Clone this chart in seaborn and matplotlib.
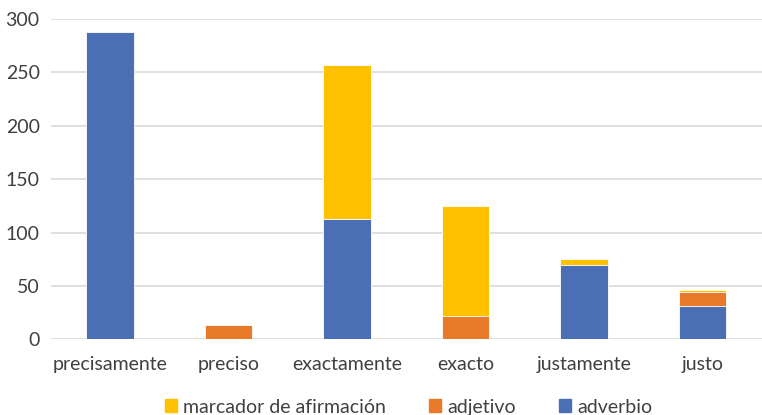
import matplotlib
matplotlib.use("Agg")
import matplotlib.pyplot as plt
import seaborn as sns
import pandas as pd
import numpy as np
from matplotlib.patches import Patch

categories = ["precisamente", "preciso", "exactamente", "exacto", "justamente", "justo"]
adverbio = [288, 0, 113, 0, 70, 31]
adjetivo = [0, 14, 0, 22, 0, 13]
marcador = [0, 0, 144, 103, 5, 2]
yticks = [0, 50, 100, 150, 200, 250, 300]

c_adv = "#4A6FB5"
c_adj = "#E97A2A"
c_mar = "#FFC000"

sns.set_theme(style="white")
plt.rcParams["font.family"] = ["Lato", "DejaVu Sans"]

df = pd.DataFrame({"cat": categories,
                   "adv": adverbio,
                   "adj": np.array(adverbio) + np.array(adjetivo)})
df["tot"] = df["adj"] + np.array(marcador)

fig = plt.figure(figsize=(7.62, 4.15), dpi=100)
ax = fig.add_axes([0.0667, 0.182, 0.933, 0.772])

for col, color in [("tot", c_mar), ("adj", c_adj), ("adv", c_adv)]:
    sns.barplot(data=df, x="cat", y=col, color=color, width=0.4, ax=ax,
                order=categories, saturation=1, zorder=3, linewidth=0.6,
                edgecolor="white")

ax.set_ylim(0, 300)
ax.set_xlim(-0.5, 5.5)
ax.set_yticks(yticks)
ax.yaxis.grid(True, color="#D9D9D9", linewidth=1.2, zorder=0)
ax.set_axisbelow(True)
for s in ax.spines.values():
    s.set_visible(False)
ax.set_xlabel("")
ax.set_ylabel("")
ax.tick_params(axis="both", length=0, labelsize=14, colors="#404040")
ax.tick_params(axis="x", pad=12)
ax.tick_params(axis="y", pad=8)

handles = [Patch(color=c_mar, label="marcador de afirmación"),
           Patch(color=c_adj, label="adjetivo"),
           Patch(color=c_adv, label="adverbio")]
leg = ax.legend(handles=handles, loc="lower center", bbox_to_anchor=(0.536, -0.025),
                bbox_transform=fig.transFigure,
                ncol=3, frameon=False, fontsize=14, handlelength=0.65, handleheight=0.65,
                handletextpad=0.3, columnspacing=2.2, borderpad=0.0)
for t in leg.get_texts():
    t.set_color("#404040")

fig.savefig("out.png", dpi=100)
